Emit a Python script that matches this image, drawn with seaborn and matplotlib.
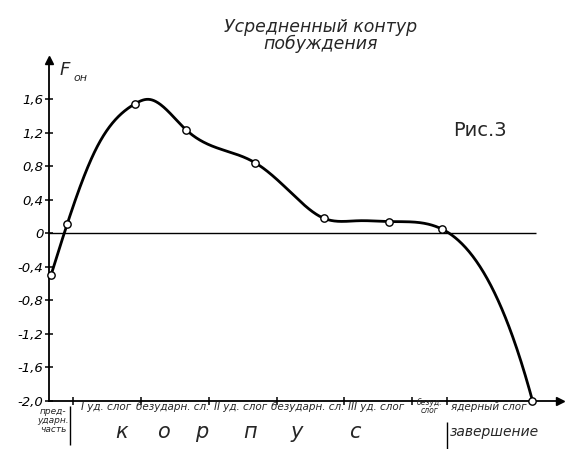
import numpy as np
import pandas as pd
import matplotlib
matplotlib.use("Agg")
import matplotlib.pyplot as plt
import seaborn as sns

# marked points of the averaged contour (circles on the curve)
point_x = [0.03, 0.27, 1.26, 2.02, 3.03, 4.04, 5.00, 5.78, 7.11]
point_y = [-0.50, 0.115, 1.544, 1.233, 0.843, 0.18, 0.14, 0.05, -2.00]

curve_x = [0.70, 1.46, 3.54, 4.55]
curve_y = [1.02, 1.60, 0.50, 0.15]
end_slope = -3.0  # steepness of the curve where it meets the x axis

y_ticks = [-2.0, -1.6, -1.2, -0.8, -0.4, 0.0, 0.4, 0.8, 1.2, 1.6]
segment_edges = [0.347, 1.36, 2.35, 3.35, 4.34, 5.34, 5.85]
segment_labels = ["I уд. слог", "безударн. сл.", "II уд. слог", "безударн. сл.",
                  "III уд. слог", "безуд.\nслог", "ядерный слог"]
segment_centers = [0.84, 1.82, 2.82, 3.81, 4.81, 5.59, 6.47]
body_letters = ["к", "о", "р", "п", "у", "с"]
body_x = [1.07, 1.68, 2.25, 2.96, 3.64, 4.50]


def cubic_spline(xs, ys, slope_end, n=800):
    # cubic spline: natural at the left end, clamped slope at the right end
    x = np.asarray(xs, float)
    y = np.asarray(ys, float)
    h = np.diff(x)
    m = len(x)
    A = np.zeros((m, m))
    r = np.zeros(m)
    A[0, 0] = 1.0
    for i in range(1, m - 1):
        A[i, i - 1] = h[i - 1]
        A[i, i] = 2 * (h[i - 1] + h[i])
        A[i, i + 1] = h[i]
        r[i] = 6 * ((y[i + 1] - y[i]) / h[i] - (y[i] - y[i - 1]) / h[i - 1])
    A[-1, -2] = h[-1]
    A[-1, -1] = 2 * h[-1]
    r[-1] = 6 * (slope_end - (y[-1] - y[-2]) / h[-1])
    M = np.linalg.solve(A, r)
    xx = np.linspace(x[0], x[-1], n)
    k = np.clip(np.searchsorted(x, xx) - 1, 0, m - 2)
    dx1 = x[k + 1] - xx
    dx0 = xx - x[k]
    hk = h[k]
    yy = (M[k] * dx1 ** 3 / (6 * hk) + M[k + 1] * dx0 ** 3 / (6 * hk)
          + (y[k] / hk - M[k] * hk / 6) * dx1 + (y[k + 1] / hk - M[k + 1] * hk / 6) * dx0)
    return xx, yy


knots = pd.DataFrame({"x": point_x + curve_x, "y": point_y + curve_y}).sort_values("x")
sx, sy = cubic_spline(knots["x"].values, knots["y"].values, end_slope)
curve = pd.DataFrame({"x": sx, "y": sy})
points = pd.DataFrame({"x": point_x, "y": point_y})

sns.set_theme(style="white")
plt.rcParams["font.family"] = ["DejaVu Sans"]
plt.rcParams["font.style"] = "italic"

fig = plt.figure(figsize=(5.69, 4.49), dpi=100)
ax = fig.add_axes([0, 0, 1, 1])
ax.set_xlim(-0.72, 7.647)
ax.set_ylim(-2.576, 2.786)
ax.patch.set_alpha(0)

# axes drawn like the hand sketch
for s in ["top", "right"]:
    ax.spines[s].set_visible(False)
ax.spines["left"].set_position(("data", 0))
ax.spines["bottom"].set_position(("data", -2.0))
ax.spines["left"].set_bounds(-2.0, 2.05)
ax.spines["bottom"].set_bounds(0, 7.5)
for s in ["left", "bottom"]:
    ax.spines[s].set_color("black")
    ax.spines[s].set_linewidth(1.3)
ax.plot(0, 2.07, marker="^", color="black", markersize=6, clip_on=False)
ax.plot(7.52, -2.0, marker=">", color="black", markersize=6, clip_on=False)

ax.set_yticks(y_ticks)
ax.set_yticklabels(["0" if v == 0 else f"{v:.1f}".replace(".", ",") for v in y_ticks])
ax.set_xticks(segment_edges)
ax.set_xticklabels([])
ax.tick_params(axis="both", direction="inout", length=6, width=1.1, color="black",
               labelsize=9.5, labelcolor="black", left=True, bottom=True)
ax.tick_params(axis="y", pad=1)

ax.hlines(0, 0, 7.16, color="black", linewidth=1.0)

sns.lineplot(data=curve, x="x", y="y", sort=False, color="black", linewidth=2.0, ax=ax, zorder=3)
sns.scatterplot(data=points, x="x", y="y", s=28, facecolor="white", edgecolor="black",
                linewidth=1.0, ax=ax, zorder=4)
ax.set_xlabel("")
ax.set_ylabel("")

# labels of the syllables
for lab, cx in zip(segment_labels, segment_centers):
    fs = 5.5 if "\n" in lab else 7.5
    ax.text(cx, -2.07, lab, ha="center", va="center", fontsize=fs, linespacing=0.8)
ax.text(0.06, -2.23, "пред-\nударн.\nчасть", ha="center", va="center", fontsize=6.5, linespacing=1.0)
ax.vlines(0.31, -2.06, -2.53, color="black", linewidth=1.0)
ax.vlines(5.85, -2.25, -2.58, color="black", linewidth=1.0)
for let, lx in zip(body_letters, body_x):
    ax.text(lx, -2.37, let, ha="center", va="center", fontsize=15)
ax.text(5.89, -2.37, "завершение", ha="left", va="center", fontsize=10)

ax.text(4.0, 2.36, "Усредненный контур\nпобуждения", ha="center", va="center",
        fontsize=12.5, linespacing=0.95)
ax.text(6.34, 1.23, "Рис.3", ha="center", va="center", fontsize=14, fontstyle="normal")
ax.text(0.235, 1.95, "F", ha="center", va="center", fontsize=13)
ax.text(0.46, 1.86, "он", ha="center", va="center", fontsize=8)

fig.savefig("out.png", dpi=100, facecolor="white")
